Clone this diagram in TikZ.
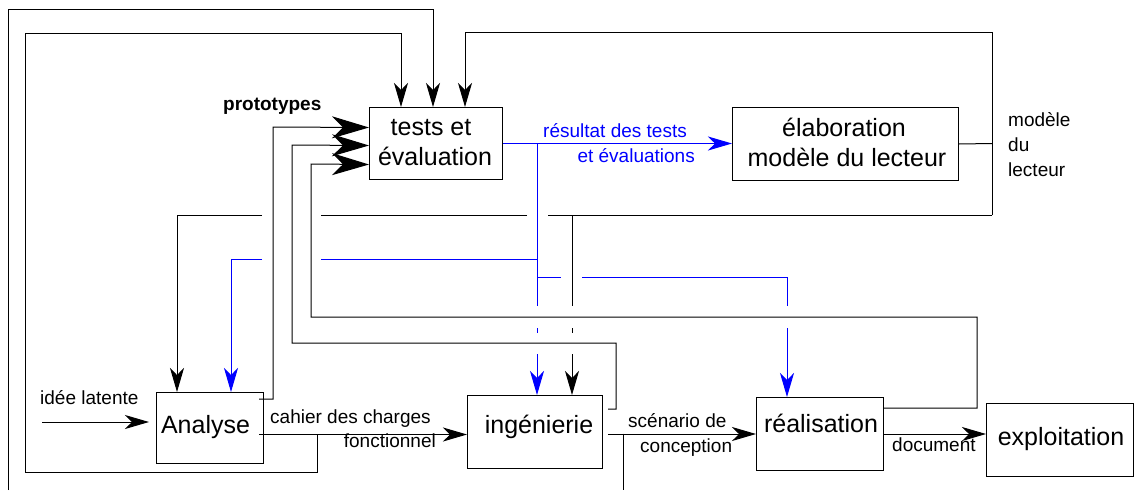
\documentclass[tikz,border=0pt]{standalone}
\usepackage{fontspec}
\setmainfont{Liberation Sans}
\usetikzlibrary{arrows.meta}
\begin{document}
\begin{tikzpicture}[x=1pt,y=-1pt,
  ln/.style={line width=1pt,draw=black},
  bl/.style={line width=1pt,draw=blue},
  arr/.style={-{Stealth[length=24pt,width=14pt,inset=7pt]}},
  bigarr/.style={-{Stealth[length=37pt,width=22pt,inset=11pt]}},
  box/.style={draw, line width=1pt, inner sep=0pt, anchor=north west},
  bigtxt/.style={inner sep=0pt, font=\fontsize{25}{30}\selectfont},
  smtxt/.style={inner sep=0pt, font=\fontsize{19}{23}\selectfont},
]
\useasboundingbox (0,0) rectangle (1134,490);

% boxes
\node[box, minimum width=133pt, minimum height=72pt] (tests) at (369,107) {};
\node[box, minimum width=226pt, minimum height=73pt] (elab) at (732,107) {};
\node[box, minimum width=107pt, minimum height=71pt] (ana) at (156,392) {};
\node[box, minimum width=135pt, minimum height=73pt] (ing) at (467,395) {};
\node[box, minimum width=127pt, minimum height=73pt] (real) at (756,397) {};
\node[box, minimum width=147pt, minimum height=73pt] (expl) at (986,403) {};

% box texts
\node[bigtxt, anchor=base] (t1) at (431,135) {tests et};
\node[bigtxt, anchor=base] (t2) at (435,165) {évaluation};
\node[bigtxt, anchor=base] (e1) at (844,136) {élaboration};
\node[bigtxt, anchor=base] (e2) at (847,166) {modèle du lecteur};
\node[bigtxt, anchor=base] (a1) at (205.5,433) {Analyse};
\node[bigtxt, anchor=base] (i1) at (539,433) {ingénierie};
\node[bigtxt, anchor=base] (r1) at (821,432) {réalisation};
\node[bigtxt, anchor=base] (x1) at (1061,445) {exploitation};

% small labels
\node[smtxt, anchor=base west, font=\fontsize{19}{23}\selectfont\bfseries] (proto) at (223,110) {prototypes};
\node[smtxt, anchor=base west, text=blue] (res1) at (543,137) {résultat des tests};
\node[smtxt, anchor=base east, text=blue] (res2) at (695,162) {et évaluations};
\node[smtxt, anchor=base west] (m1) at (1008,126) {modèle};
\node[smtxt, anchor=base west] (m2) at (1008,151) {du};
\node[smtxt, anchor=base west] (m3) at (1008,176) {lecteur};
\node[smtxt, anchor=base west] (idl) at (40,404) {idée latente};
\node[smtxt, anchor=base west] (cdc1) at (270,423) {cahier des charges};
\node[smtxt, anchor=base east] (cdc2) at (436,447) {fonctionnel};
\node[smtxt, anchor=base west] (sc1) at (628,427) {scénario de};
\node[smtxt, anchor=base west] (sc2) at (640,452) {conception};
\node[smtxt, anchor=base west] (doc) at (892,451) {document};

% élaboration output loop
\draw[ln] (elab.east) -- (992,143.5);
\draw[ln,arr] (992,215) -- (992,32) -- (465,32) -- ([xshift=96pt]tests.north west);
\draw[ln] (992,215) -- (548,215);
\draw[ln] (527,215) -- (321,215);
\draw[ln,arr] (262,215) -- (177,215) -- ([xshift=21pt]ana.north west);
\draw[ln] (572,215) -- (572,306);
\draw[ln] (572,328) -- (572,333);
\draw[ln,arr] (572,354) -- ([xshift=105pt]ing.north west);

% blue: results of tests
\draw[bl,arr] (tests.east) -- (tests.east -| elab.west);
\draw[bl] (537,143.5) -- (537,306);
\draw[bl] (537,328) -- (537,333);
\draw[bl,arr] (537,354) -- ([xshift=70pt]ing.north west);
\draw[bl] (537,259) -- (321,259);
\draw[bl,arr] (262,259) -- (231,259) -- ([xshift=75pt]ana.north west);
\draw[bl] (537,277) -- (561,277);
\draw[bl] (582,277) -- (787,277) -- (787,306);
\draw[bl,arr] (787,328) -- ([xshift=31pt]real.north west);

% prototypes
\draw[ln,bigarr] ([xshift=-5pt,yshift=-7pt]ana.north east) -- (273,399) -- (273,127) -- ([yshift=16pt]tests.west);
\draw[ln,bigarr] ([xshift=5pt,yshift=-14pt]ing.north east) -- (616,409) -- (616,343) -- (292,343) -- (292,145) -- ([yshift=-2pt]tests.west);
\draw[ln,bigarr] ([yshift=-11pt]real.north east) -- (977,408) -- (977,317) -- (311,317) -- (311,164) -- ([yshift=-21pt]tests.west);

% main chain
\coordinate (idee) at (42,422);
\draw[ln,arr] (idee) -- ([xshift=-7pt]ana.west |- idee);
\draw[ln,arr] ([xshift=-5pt,yshift=-6.5pt]ana.east) -- ([yshift=-2.5pt]ing.west);
\draw[ln,arr] (317,434) -- (317,472) -- (25,472) -- (25,33) -- (401,33) -- ([xshift=32pt]tests.north west);
\draw[ln,arr] ([xshift=5pt]ing.east |- real.west) -- (real.west);
\draw[ln] (623,433.5) -- (623,490);
\draw[ln,arr] (8,490) -- (8,9) -- (433,9) -- ([xshift=64pt]tests.north west);
\draw[ln,arr] (real.east) -- (real.east -| expl.west);
\end{tikzpicture}
\end{document}
